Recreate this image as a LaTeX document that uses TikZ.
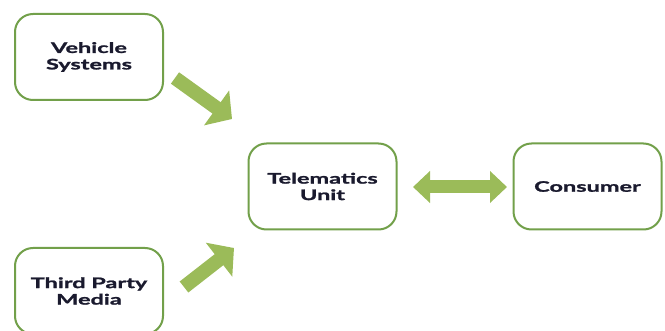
\documentclass[tikz,border=0pt]{standalone}
\usepackage{fontspec}
\newfontfamily\boxfont{Lato}[FakeStretch=1.62,FakeBold=1.5]
\usetikzlibrary{arrows.meta}
\definecolor{boxgreen}{HTML}{72A04A}
\definecolor{arrowgreen}{HTML}{9BBB59}
\definecolor{txt}{HTML}{1A1A2E}
\begin{document}
\begin{tikzpicture}[x=1pt,y=-1pt,
  box/.style={draw=boxgreen, line width=2pt, rounded corners=18pt, fill=white,
    text=txt, font=\boxfont\bfseries\fontsize{14.5}{16.5}\selectfont,
    align=center, inner sep=0pt, minimum width=148pt, minimum height=86pt},
  flow/.style={draw=arrowgreen, line width=14pt, -{Triangle[length=19pt,width=42pt]}},
  both/.style={draw=arrowgreen, line width=13pt, {Triangle[length=17pt,width=31pt]}-{Triangle[length=17pt,width=31pt]}}]
\useasboundingbox (0,0) rectangle (665,331);
\node[box] (veh) at (89,57) {Vehicle\\Systems};
\node[box] (tel) at (322.5,186.5) {Telematics\\Unit};
\node[box] (con) at (587.5,186.5) {Consumer};
\node[box] (tpm) at (89,291) {Third Party\\Media};
\coordinate (a1s) at (175,78);
\coordinate (a1e) at (232,119);
\coordinate (a3s) at (184,287);
\coordinate (a3e) at (234,248);
\coordinate (a2s) at (413,187);
\coordinate (a2e) at (507,187);
\draw[flow] (a1s) -- (a1e);
\draw[flow] (a3s) -- (a3e);
\draw[both] (a2s) -- (a2e);
\end{tikzpicture}
\end{document}
